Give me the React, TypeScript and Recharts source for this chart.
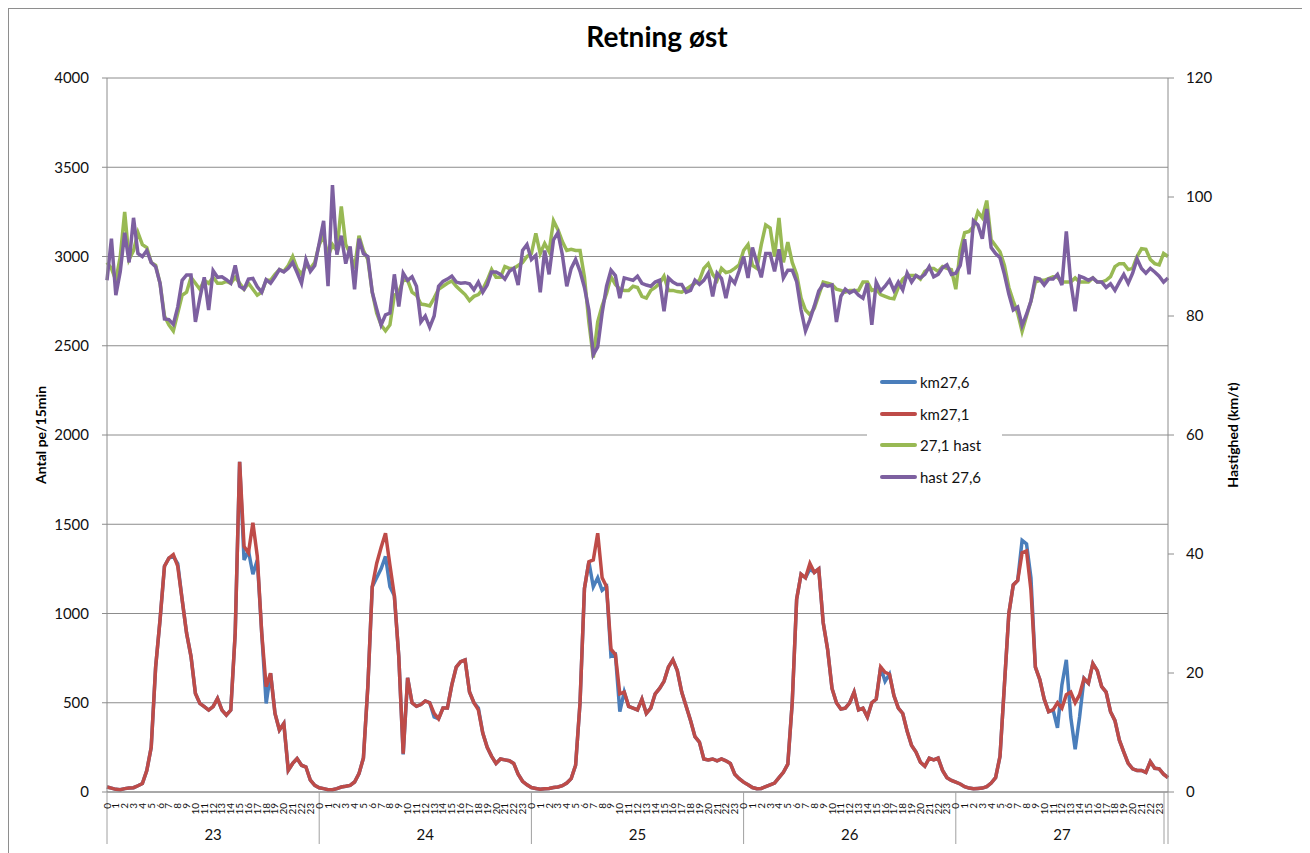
import { LineChart, Line, XAxis, YAxis, CartesianGrid, Legend } from 'recharts';

const DAYS = ['23', '24', '25', '26', '27'];
const SERIES_NAMES = ['km27,6', 'km27,1', '27,1 hast', 'hast 27,6'];

// antal pe/15min, en verdi per halvtime fra dag 23 kl 0 til dag 28 kl 0
const km276 = [
  28, 22, 15, 13, 19, 22, 24, 35, 47, 120, 250, 700, 965, 1265, 1310, 1320, 1280, 1077, 890, 760,
  552, 496, 478, 459, 478, 524, 459, 431, 459, 890, 1850, 1300, 1350, 1220, 1300, 890, 496, 665, 440, 347,
  384, 122, 160, 187, 150, 140, 66, 37,
  24, 19, 13, 13, 19, 28, 32, 37, 56, 103, 190, 590, 1150, 1200, 1250, 1320, 1150, 1100, 760, 210,
  640, 500, 480, 490, 510, 500, 420, 410, 470, 470, 600, 700, 730, 740, 560, 500, 470, 330, 250, 200,
  160, 185, 180, 175, 160, 100, 60, 40,
  25, 20, 15, 18, 20, 25, 28, 35, 50, 75, 150, 500, 1140, 1290, 1150, 1200, 1130, 1150, 760, 770,
  450, 560, 480, 470, 460, 520, 440, 470, 550, 580, 620, 700, 740, 680, 560, 480, 400, 310, 280, 185,
  180, 185, 175, 185, 175, 160, 100, 75,
  55, 40, 25, 18, 20, 30, 40, 50, 80, 110, 156, 500, 1080, 1220, 1200, 1250, 1230, 1250, 950, 800,
  580, 500, 465, 470, 500, 560, 460, 470, 420, 500, 520, 700, 620, 660, 540, 470, 440, 340, 260, 224,
  167, 144, 190, 180, 190, 121, 80, 65,
  55, 45, 30, 22, 18, 20, 22, 30, 50, 80, 200, 600, 1000, 1160, 1185, 1410, 1390, 1200, 700, 630,
  520, 450, 460, 360, 600, 740, 420, 240, 420, 636, 610, 720, 680, 590, 560, 450, 400, 290, 224, 160,
  130, 121, 121, 110, 170, 133, 130, 100,
  80,
];

const km271 = [
  28, 22, 15, 13, 19, 22, 24, 35, 47, 120, 250, 700, 965, 1265, 1310, 1330, 1265, 1077, 890, 760,
  552, 496, 478, 459, 478, 524, 459, 431, 459, 890, 1850, 1376, 1340, 1508, 1320, 890, 590, 665, 440, 347,
  384, 122, 160, 187, 150, 140, 66, 37,
  24, 19, 13, 13, 19, 28, 32, 37, 56, 103, 190, 590, 1150, 1280, 1370, 1450, 1270, 1100, 760, 215,
  640, 500, 480, 490, 510, 500, 440, 410, 470, 470, 600, 700, 730, 740, 560, 500, 460, 330, 250, 200,
  160, 185, 180, 175, 160, 100, 60, 40,
  25, 20, 15, 18, 20, 25, 28, 35, 50, 75, 150, 500, 1140, 1290, 1300, 1450, 1200, 1150, 800, 770,
  550, 560, 480, 470, 460, 520, 440, 470, 550, 580, 620, 700, 740, 680, 560, 480, 400, 310, 280, 185,
  180, 185, 175, 185, 175, 160, 100, 75,
  55, 40, 25, 18, 20, 30, 40, 50, 80, 110, 156, 500, 1080, 1220, 1200, 1280, 1230, 1250, 950, 800,
  580, 500, 465, 470, 500, 560, 460, 470, 420, 500, 520, 700, 670, 660, 540, 470, 440, 340, 260, 224,
  167, 144, 190, 180, 190, 121, 80, 65,
  55, 45, 30, 22, 18, 20, 22, 30, 50, 80, 200, 600, 1000, 1160, 1185, 1340, 1350, 1130, 700, 630,
  520, 450, 460, 500, 470, 545, 560, 500, 545, 636, 610, 720, 680, 590, 560, 450, 400, 290, 224, 160,
  130, 121, 121, 110, 170, 133, 130, 100,
  80,
];

// hastighet km/t
const hast271 = [
  89, 88, 86, 90, 97.5, 89.5, 91, 94, 92, 91.5, 89, 88.5, 85.5, 80, 78.5, 77.5, 80.5, 83.5, 84, 86.5,
  85.5, 84.5, 86, 85.5, 86.5, 85.5, 85.5, 85.8, 85.5, 86.5, 85.5, 84.5, 85.5, 84.5, 83.5, 84, 86, 86, 87, 87.8,
  87.5, 88.5, 90, 88, 87, 88.5, 88, 89,
  92, 93.5, 90, 92, 91, 98.4, 92, 90.5, 88, 93.5, 91, 89.5, 84, 80.5, 78.5, 77.5, 78.5, 83.5, 84, 86,
  86, 84, 83.5, 82, 81.9, 81.7, 83, 84.5, 85, 85.5, 85.9, 85, 84.3, 83.6, 82.6, 83.3, 83.6, 84.5, 86, 87.8,
  86.5, 86.5, 88.3, 88, 88, 88.5, 89, 90,
  90.5, 93.9, 90.5, 92.2, 90.8, 96, 94.5, 92.5, 91, 91.2, 91, 91, 86.5, 79, 73, 79, 81.7, 83.8, 86.6, 85.3,
  84.5, 84.3, 84.3, 85, 84.8, 83.3, 83, 84.3, 84.8, 85.5, 86.7, 84.3, 84.3, 84.1, 84, 84.5, 85, 85.5, 86, 88,
  88.8, 87, 86, 88, 87.3, 87.5, 88, 88.6,
  91, 92, 88.5, 88, 92, 95.3, 94.8, 90, 96.5, 89, 92.4, 89, 87, 83, 81, 80.2, 81.3, 83.5, 85.7, 85.5,
  85.3, 84.5, 84.3, 84, 84.3, 84.3, 84.3, 85.7, 85.7, 84.3, 84.5, 83.6, 83.3, 83, 82.9, 84.8, 86.2, 86.8, 86.8, 86.8,
  86.2, 87.5, 88, 88, 87.5, 88.3, 88, 87.8,
  84.5, 91, 94, 94.2, 95, 97.5, 96.5, 99.4, 92.8, 91.8, 90.8, 88.5, 84.8, 82.5, 80.5, 77.4, 80, 82.5, 85.7, 86,
  86, 86.3, 86.6, 86.5, 85.7, 85.7, 85.7, 86.4, 85.7, 85.7, 85.7, 86.4, 85.7, 85.7, 86, 86.6, 88.3, 88.8, 88.8, 87.8,
  88, 90, 91.3, 91.2, 89.5, 88.8, 88.6, 90.5,
  90,
];

const hast276 = [
  86, 93, 83.5, 87.5, 94, 89, 96.5, 90.5, 90, 91, 89, 88.3, 85.5, 79.5, 79.4, 78.6, 81.5, 86, 86.9, 86.9,
  79, 83, 86.5, 81, 87.6, 86.5, 86.6, 86.1, 85.5, 88.5, 85, 84.5, 86.2, 86.3, 84.9, 84, 86.1, 85.5, 86.6, 87.8,
  87.4, 88, 89, 87.3, 85.5, 89.5, 87.5, 88.5,
  92.2, 96, 85, 102, 90.3, 93.5, 88.8, 91.7, 84.5, 93, 90.5, 90, 84, 81.2, 78.5, 80.2, 80.5, 87, 81.6, 87.2,
  86, 86.6, 85, 79, 80, 78.1, 80, 85, 85.8, 86.2, 86.7, 85.7, 85.5, 85.6, 85.4, 84.4, 85.7, 84, 85.2, 87.4,
  87.4, 87, 86.2, 87.5, 88, 85.2, 91, 92,
  89.5, 90.2, 84, 91, 87, 92.8, 94, 90.3, 85, 88, 89.5, 87.5, 84.8, 81, 73.5, 74.8, 80.5, 85, 87.7, 86.8,
  83, 86.4, 86.2, 86, 86.7, 85.5, 85.2, 85, 85.7, 86, 80.8, 86.4, 85.7, 85.3, 85.3, 84, 84.3, 86, 85.3, 86,
  87.2, 83.3, 87.2, 86.3, 83, 86.4, 85.5, 87.6,
  90, 86.4, 91.5, 89, 86.5, 90.5, 90.5, 87.5, 91.2, 86.4, 87.7, 87.7, 85.8, 81, 77.5, 79.4, 81.7, 84.2, 85.3, 85,
  85.2, 79, 83.3, 84.5, 83.9, 84.3, 83.5, 83, 85.5, 78.5, 85.7, 84.2, 85, 86, 84.3, 85.7, 84.4, 87.2, 85.7, 86.8,
  86.4, 87, 88.3, 86.6, 87, 88.1, 88.6, 87,
  87.2, 88.5, 92.9, 87, 96, 95.3, 93, 98, 91.5, 90.5, 89.8, 87, 83.7, 81, 81.5, 78.4, 80.3, 82.5, 86.4, 86.2,
  85.2, 86.2, 86.2, 87, 85.2, 94.2, 85.7, 80.8, 86.7, 86.4, 86, 86.4, 85.7, 85.7, 84.8, 85.4, 84.3, 85.7, 87, 85.5,
  87.2, 89.6, 88, 87.2, 88, 87.4, 86.7, 85.7,
  86.4,
];

const LEFT_TICKS = [0, 500, 1000, 1500, 2000, 2500, 3000, 3500, 4000];
const RIGHT_TICKS = [0, 20, 40, 60, 80, 100, 120];
const HOUR_TICKS = Array.from({ length: DAYS.length * 24 + 1 }, (_, i) => i);

const rows = km271.map((v, i) => ({
  t: i / 2,
  km276: km276[i],
  km271: v,
  hast271: hast271[i],
  hast276: hast276[i],
}));

const FONT = 'Lato, "Open Sans", sans-serif';
const GRID = '#8c8c8c';

function HourTick(props: any) {
  const { x, y, payload } = props;
  const t = payload.value;
  const h = t % 24;
  const day = Math.floor(t / 24);
  const last = t === DAYS.length * 24;
  return (
    <g>
      {h === 0 && <line x1={x} x2={x} y1={y} y2={y + 52} stroke="#a0a0a0" />}
      {last && <line x1={x - 4} x2={x - 4} y1={y} y2={y + 52} stroke="#a0a0a0" />}
      {!last && (
        <text transform={`translate(${x + 3.5},${y + 11}) rotate(-90)`} textAnchor="end" fontSize={10} fill="#111">
          {h}
        </text>
      )}
      {h === 12 && (
        <text x={x} y={y + 48} textAnchor="middle" fontSize={15} fill="#111">
          {DAYS[day]}
        </text>
      )}
    </g>
  );
}

function LegendBox({ payload }: any) {
  const items = [...(payload || [])].sort(
    (a: any, b: any) => SERIES_NAMES.indexOf(a.value) - SERIES_NAMES.indexOf(b.value)
  );
  return (
    <div style={{ background: '#fff', width: 135, height: 130, paddingTop: 1, boxSizing: 'border-box' }}>
      {items.map((p: any) => (
        <div key={p.value} style={{ display: 'flex', alignItems: 'center', height: 31.7 }}>
          <span style={{ display: 'inline-block', marginLeft: 13, width: 37, height: 4, borderRadius: 2, background: p.color }} />
          <span style={{ marginLeft: 3, fontSize: 15, color: '#111', fontFamily: FONT }}>{p.value}</span>
        </div>
      ))}
    </div>
  );
}

export default function App() {
  return (
    <div style={{ position: 'relative', width: 1298, height: 850, fontFamily: FONT }}>
      <LineChart width={1298} height={850} data={rows} margin={{ top: 70, right: 0, bottom: 0, left: 0 }}>
        <CartesianGrid yAxisId="antal" vertical={false} stroke={GRID} />
        <XAxis
          dataKey="t"
          type="number"
          domain={[0, DAYS.length * 24]}
          ticks={HOUR_TICKS}
          interval={0}
          height={66}
          tickLine={false}
          tickSize={0}
          tickMargin={0}
          stroke={GRID}
          tick={<HourTick />}
        />
        <YAxis
          yAxisId="antal"
          domain={[0, 4000]}
          ticks={LEFT_TICKS}
          width={99}
          tickSize={5}
          tickMargin={13}
          stroke={GRID}
          tick={{ fill: '#111', fontSize: 15 }}
        />
        <YAxis
          yAxisId="hast"
          orientation="right"
          domain={[0, 120]}
          ticks={RIGHT_TICKS}
          width={138}
          tickSize={6}
          tickMargin={12}
          stroke={GRID}
          tick={{ fill: '#111', fontSize: 15 }}
        />
        <Line yAxisId="antal" dataKey="km276" name="km27,6" stroke="#4a7ebb" strokeWidth={3.5} dot={false} activeDot={false} isAnimationActive={false} />
        <Line yAxisId="antal" dataKey="km271" name="km27,1" stroke="#be4b48" strokeWidth={3.5} dot={false} activeDot={false} isAnimationActive={false} />
        <Line yAxisId="hast" dataKey="hast271" name="27,1 hast" stroke="#98b954" strokeWidth={3.5} dot={false} activeDot={false} isAnimationActive={false} />
        <Line yAxisId="hast" dataKey="hast276" name="hast 27,6" stroke="#7d60a0" strokeWidth={3.5} dot={false} activeDot={false} isAnimationActive={false} />
        <Legend
          layout="vertical"
          align="center"
          verticalAlign="middle"
          itemSorter={null as any}
          wrapperStyle={{ left: 859, top: 357, width: 135, height: 130 }}
          content={(p: any) => <LegendBox payload={p.payload} />}
        />
      </LineChart>
      <div style={{ position: 'absolute', top: 12, left: 0, width: '100%', textAlign: 'center', fontSize: 28, fontWeight: 'bold', lineHeight: '32px' }}>
        Retning øst
      </div>
      <div style={{ position: 'absolute', left: 32, top: 427, transform: 'translate(-50%, -50%) rotate(-90deg)', whiteSpace: 'nowrap', fontSize: 14, fontWeight: 'bold' }}>
        Antal pe/15min
      </div>
      <div style={{ position: 'absolute', left: 1224, top: 427, transform: 'translate(-50%, -50%) rotate(-90deg)', whiteSpace: 'nowrap', fontSize: 14, fontWeight: 'bold' }}>
        Hastighed (km/t)
      </div>
      <div style={{ position: 'absolute', left: 0, top: 0, width: 1298, height: 850, border: '1px solid #8e8e8e', boxSizing: 'border-box', pointerEvents: 'none' }} />
    </div>
  );
}
